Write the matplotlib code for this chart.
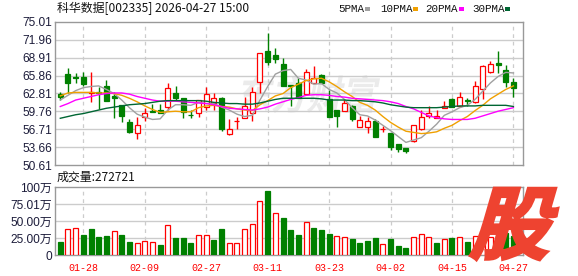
import matplotlib
matplotlib.use('Agg')
import matplotlib.pyplot as plt
from matplotlib.patches import Rectangle, PathPatch
from matplotlib.textpath import TextPath
from matplotlib.font_manager import FontProperties
from matplotlib.transforms import Affine2D, IdentityTransform

# ---------------- data ----------------
opens = [62.67, 66.12, 65.60, 65.56, 62.95, 63.00, 64.09, 62.39, 60.86, 58.03,
         56.04, 58.88, 59.80, 60.01, 60.46, 62.95, 61.99, 59.20, 59.44, 60.46,
         61.25, 61.99, 55.93, 58.10, 58.60, 59.44, 64.82, 70.03, 69.35, 67.82,
         64.20, 64.54, 62.73, 64.65, 65.96, 61.88, 60.01, 59.90, 60.69, 57.18,
         57.18, 58.20, 56.76, 56.05, 54.23, 53.55, 54.80, 56.84, 58.99, 58.70,
         60.29, 61.82, 60.69, 61.65, 61.43, 63.52, 66.52, 67.99, 66.80, 64.82]
highs = [63.07, 67.09, 66.24, 66.41, 66.52, 63.97, 65.11, 63.12, 60.86, 58.42,
         58.76, 60.41, 61.03, 61.03, 64.65, 64.09, 61.99, 60.01, 61.71, 63.97,
         62.95, 62.27, 58.42, 58.76, 62.27, 63.86, 69.64, 73.15, 70.49, 68.79,
         64.26, 65.39, 66.92, 67.48, 66.07, 63.41, 60.01, 61.82, 60.86, 58.99,
         58.76, 58.42, 57.30, 56.05, 54.23, 53.55, 57.52, 60.01, 60.69, 60.01,
         61.54, 61.99, 63.07, 61.99, 64.94, 67.65, 68.34, 70.03, 67.65, 65.39]
lows = [61.71, 62.84, 64.54, 64.09, 61.43, 60.12, 61.60, 58.70, 58.03, 56.16,
        55.14, 58.20, 59.61, 59.44, 60.01, 61.60, 58.60, 58.60, 58.76, 60.01,
        60.01, 56.50, 55.76, 56.72, 58.60, 58.20, 62.84, 67.65, 67.94, 64.09,
        60.69, 62.10, 62.56, 64.54, 64.54, 58.88, 57.06, 59.90, 58.20, 57.18,
        56.05, 55.37, 56.33, 53.21, 52.93, 52.76, 54.63, 56.61, 58.60, 58.60,
        60.29, 60.46, 60.58, 60.69, 61.14, 61.82, 66.35, 66.35, 63.97, 62.27]
closes = [62.27, 64.54, 65.50, 64.43, 63.12, 62.90, 61.60, 61.99, 58.99, 56.33,
          57.46, 59.44, 59.70, 59.44, 63.69, 61.99, 59.73, 59.16, 61.71, 62.67,
          61.99, 56.72, 56.78, 58.20, 60.69, 63.12, 69.64, 68.22, 68.62, 64.09,
          64.00, 62.10, 66.52, 65.50, 64.54, 58.88, 58.99, 61.14, 58.42, 58.31,
          58.20, 55.37, 56.86, 53.78, 53.38, 52.99, 57.52, 58.76, 59.44, 59.05,
          60.74, 60.58, 62.16, 61.60, 64.09, 67.48, 67.82, 67.71, 64.82, 63.69]
prev_close = 62.60

ma5 = [61.7, 62.5, 63.3, 63.8, 64.0, 64.1, 63.5, 62.8, 61.7, 60.4,
       59.3, 58.8, 58.4, 58.5, 60.0, 60.9, 60.9, 60.8, 61.3, 61.1,
       61.1, 60.5, 60.0, 59.3, 58.9, 59.1, 61.7, 64.0, 66.1, 66.7,
       66.9, 65.4, 65.1, 64.4, 64.5, 63.5, 62.9, 61.8, 60.4, 59.2,
       59.0, 58.3, 57.4, 56.5, 55.5, 54.5, 54.9, 55.3, 56.4, 57.6,
       59.1, 59.7, 60.4, 60.8, 61.8, 63.2, 64.6, 65.7, 66.4, 66.3]
ma10 = [62.4, 62.9, 63.0, 63.0, 63.0, 62.9, 62.9, 62.8, 62.5, 62.0,
        61.4, 60.7, 60.1, 59.6, 59.7, 59.8, 59.7, 59.7, 60.4, 60.7,
        60.8, 60.6, 60.5, 60.2, 60.0, 59.9, 60.9, 61.6, 62.4, 62.8,
        63.8, 64.4, 65.0, 65.3, 65.4, 64.8, 64.0, 63.1, 62.3, 61.3,
        60.8, 60.0, 58.9, 57.9, 57.1, 56.4, 56.2, 56.0, 56.1, 56.3,
        56.9, 57.4, 58.2, 58.9, 59.9, 60.8, 61.9, 62.7, 63.5, 64.1]
ma20 = [60.6, 61.1, 61.7, 62.0, 62.3, 62.6, 62.8, 62.9, 62.9, 62.7,
        62.3, 62.0, 61.7, 61.5, 61.5, 61.5, 61.4, 61.3, 61.2, 61.1,
        60.9, 60.6, 60.3, 60.2, 60.1, 60.0, 60.2, 60.5, 61.0, 61.4,
        61.8, 62.1, 62.5, 62.6, 62.6, 62.5, 62.3, 62.2, 62.0, 61.9,
        61.8, 61.7, 61.6, 61.4, 61.1, 60.6, 60.2, 59.6, 59.0, 58.7,
        58.5, 58.4, 58.4, 58.4, 58.6, 59.0, 59.4, 59.8, 60.1, 60.4]
ma30 = [58.6, 58.9, 59.2, 59.4, 59.7, 60.0, 60.3, 60.5, 60.7, 60.9,
        61.0, 61.1, 61.3, 61.5, 61.6, 61.6, 61.6, 61.6, 61.6, 61.5,
        61.3, 61.2, 61.1, 61.1, 61.0, 61.0, 61.2, 61.5, 61.8, 62.0,
        62.0, 62.0, 62.0, 62.0, 61.9, 61.7, 61.7, 61.7, 61.6, 61.6,
        61.5, 61.4, 61.2, 60.9, 60.7, 60.5, 60.4, 60.4, 60.4, 60.4,
        60.5, 60.6, 60.7, 60.7, 60.7, 60.8, 60.8, 60.8, 60.8, 60.6]

volumes = [19.6, 38.2, 39.7, 29.4, 38.2, 26.0, 28.0, 35.3, 29.4, 19.1,
           17.1, 20.1, 18.6, 14.7, 43.6, 25.5, 25.5, 17.1, 28.9, 28.9,
           22.1, 38.2, 17.1, 17.1, 38.2, 45.6, 79.4, 94.0, 61.2, 53.9,
           36.8, 29.4, 48.0, 39.2, 36.8, 30.4, 28.5, 27.0, 23.5, 17.1,
           20.6, 24.5, 16.7, 23.5, 13.2, 10.3, 26.0, 30.4, 27.0, 17.1,
           23.5, 24.5, 26.0, 18.6, 28.0, 35.0, 26.0, 30.0, 32.3, 27.27]

price_ticks = [75.01, 71.96, 68.91, 65.86, 62.81, 59.76, 56.71, 53.66, 50.61]
vol_ticks = [100, 75.01, 50.00, 25.00, 0]
vol_tick_labels = ['100万', '75.01万', '50.00万', '25.00万', '0']
date_pos = [3, 11, 19, 27, 35, 43, 51, 59]
date_labels = ['01-28', '02-09', '02-27', '03-11', '03-23', '04-02', '04-15', '04-27']

title = '科华数据[002335] 2026-04-27 15:00'
vol_title = '成交量:272721'
legend_names = ['5PMA', '10PMA', '20PMA', '30PMA']

# ---------------- style ----------------
RED = '#ff0000'
GREEN = '#008000'
MA_COLORS = ['#a0a0a0', '#f0a000', '#ff00ff', '#006633']
GRID = '#cccccc'
SPINE = '#999999'
LABEL = '#1c1c3a'

W, H = 578, 276
fig = plt.figure(figsize=(W / 100, H / 100), dpi=100, facecolor='white')

def px_axes(l, t, r, b):
    return fig.add_axes([l / W, 1 - b / H, (r - l) / W, (b - t) / H])

ax = px_axes(55, 21.7, 522.5, 165.3)
axv = px_axes(55, 187, 522.5, 255)
n = len(closes)
xs = list(range(n))
for a in (ax, axv):
    a.set_facecolor('none')
    a.set_xlim(-0.69, 60.18)
    for s in a.spines.values():
        s.set_color(SPINE)
        s.set_linewidth(1.0)
    a.tick_params(length=0)
    for p in date_pos:
        a.axvline(p, color=GRID, lw=0.9, ls=(0, (3, 3)), zorder=0.5)

ax.set_ylim(price_ticks[-1], price_ticks[0])
for t in price_ticks[1:-1]:
    ax.axhline(t, color=GRID, lw=1.0, zorder=0.5)
ax.set_yticks(price_ticks)
ax.set_yticklabels(['%.2f' % t for t in price_ticks], family='Liberation Sans',
                   fontsize=8.6, color=LABEL)
ax.tick_params(axis='y', pad=2)
ax.set_xticks([])

bw = 0.65
for i in xs:
    o, h, l, c = opens[i], highs[i], lows[i], closes[i]
    up = c > o
    col = RED if up else GREEN
    ax.vlines(i, l, h, color=col, lw=1.0, zorder=2)
    bottom = min(o, c)
    height = max(abs(c - o), 0.06)
    ax.add_patch(Rectangle((i - bw / 2, bottom), bw, height,
                           facecolor='white' if up else col, edgecolor=col,
                           lw=0.9, zorder=3))

for ma, col in zip([ma5, ma10, ma20, ma30], MA_COLORS):
    ax.plot(xs, ma, color=col, lw=1.0, zorder=4)

# volume
axv.set_ylim(0, 100)
for t in vol_ticks[1:-1]:
    axv.axhline(t, color=GRID, lw=1.0, zorder=0.5)
axv.set_yticks(vol_ticks)
axv.set_yticklabels(vol_tick_labels, family=['Liberation Sans', 'Noto Sans CJK SC'],
                    fontsize=8.6, color=LABEL)
axv.tick_params(axis='y', pad=2)
axv.set_xticks(date_pos)
axv.set_xticklabels(date_labels, family='Liberation Mono', fontsize=7.2, color=RED)
axv.tick_params(axis='x', pad=6)
pc = [prev_close] + closes[:-1]
for i in xs:
    up = closes[i] > pc[i]
    col = RED if up else GREEN
    axv.bar(i, volumes[i], width=bw, facecolor='white' if up else col,
            edgecolor=col, lw=0.9, zorder=3)

# texts
fig.text(57 / W, 1 - 8.5 / H, title, family=['Noto Sans CJK SC'], fontsize=8.6,
         color='#111111', va='center', ha='left')
fig.text(57 / W, 1 - 177 / H, vol_title, family=['Noto Sans CJK SC'], fontsize=8.6,
         color='#111111', va='center', ha='left')
leg_x = [338, 380, 425, 472]
sq_x = [365, 413, 459, 505]
for name, lx, sx, col in zip(legend_names, leg_x, sq_x, MA_COLORS):
    fig.text(lx / W, 1 - 8.5 / H, name, family='Liberation Mono', fontsize=7.8,
             color='#111111', va='center', ha='left')
    fig.add_artist(Rectangle((sx / W, 1 - 10.5 / H), 5 / W, 3 / H,
                             transform=fig.transFigure, facecolor=col,
                             edgecolor='none'))

def glyph(text, box, color, skew, zorder, weight='bold', alpha=1.0, stroke=0.0):
    fp = FontProperties(family='Noto Sans CJK SC', weight=weight)
    tp = TextPath((0, 0), text, size=1, prop=fp)
    tp = Affine2D().skew_deg(skew, 0).transform_path(tp)
    ext = tp.get_extents()
    l, t, r, b = box
    sx = (r - l) / ext.width
    sy = (b - t) / ext.height
    tr = Affine2D().translate(-ext.x0, -ext.y0).scale(sx, sy).translate(l, H - b)
    p = tr.transform_path(tp)
    fig.add_artist(PathPatch(p, transform=IdentityTransform(), facecolor=color,
                             edgecolor=color if stroke else 'none', lw=stroke,
                             zorder=zorder, alpha=alpha))

# watermark behind the price chart
glyph('东方财富', (238, 75, 380, 113), '#ebebeb', 12, -1, weight='bold')
# big logo at the bottom-right
glyph('股', (470, 188, 558, 260), '#ee4330', 16, 10, weight='black', stroke=2.0)

fig.savefig('out.png', dpi=100, facecolor='white')
